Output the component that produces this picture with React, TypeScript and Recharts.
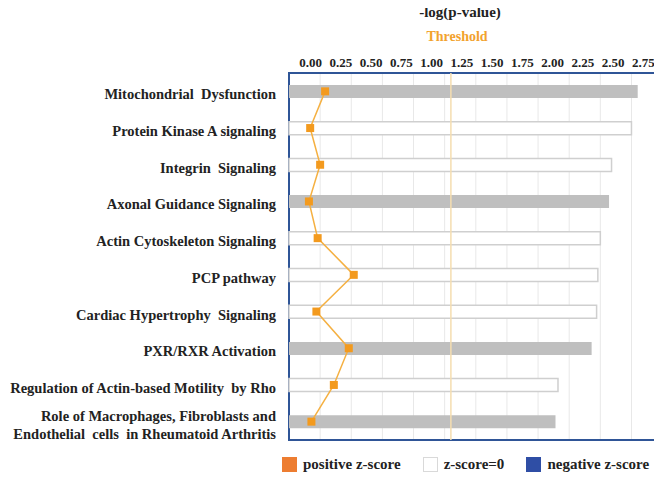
import React from 'react';
import {
  ComposedChart,
  Bar,
  Line,
  XAxis,
  YAxis,
  CartesianGrid,
  ReferenceLine,
  ReferenceArea,
  Cell,
} from 'recharts';

// pathways, top to bottom
const pathways = [
  'Mitochondrial  Dysfunction',
  'Protein Kinase A signaling',
  'Integrin  Signaling',
  'Axonal Guidance Signaling',
  'Actin Cytoskeleton Signaling',
  'PCP pathway',
  'Cardiac Hypertrophy  Signaling',
  'PXR/RXR Activation',
  'Regulation of Actin-based Motility  by Rho',
  'Role of Macrophages, Fibroblasts and|Endothelial  cells  in Rheumatoid Arthritis',
];
// -log(p-value)
const logP = [2.8, 2.75, 2.59, 2.57, 2.5, 2.48, 2.47, 2.43, 2.16, 2.14];
// ratio line (orange)
const ratio = [0.29, 0.17, 0.25, 0.16, 0.23, 0.52, 0.22, 0.48, 0.36, 0.18];
// z-score group: 'none' = no prediction (grey), 'zero' = z-score=0 (white)
const zGroup = ['none', 'zero', 'zero', 'none', 'zero', 'zero', 'zero', 'none', 'zero', 'none'];
const xTicks = [0, 0.25, 0.5, 0.75, 1, 1.25, 1.5, 1.75, 2, 2.25, 2.5, 2.75];
const threshold = 1.3;

const data = pathways.map((name, i) => ({
  name,
  logP: logP[i],
  ratio: ratio[i],
  group: zGroup[i],
}));

const FONT = '"Liberation Serif", "Times New Roman", serif';

const XTick = (props: any) => {
  const { x, y, payload, index } = props;
  // labels in the original sit a little right of their gridlines
  const dx = 21.7 - 0.9 * index;
  return (
    <text
      x={x + dx}
      y={y}
      textAnchor="middle"
      fontFamily={FONT}
      fontWeight="bold"
      fontSize={13}
      fill="#222"
    >
      {Number(payload.value).toFixed(2)}
    </text>
  );
};

const YTick = (props: any) => {
  const { x, y, payload } = props;
  const lines = String(payload.value).split('|');
  const start = y + 8 - ((lines.length - 1) * 18) / 2;
  return (
    <text
      textAnchor="end"
      fontFamily={FONT}
      fontWeight="bold"
      fontSize={14.5}
      fill="#222"
      style={{ whiteSpace: 'pre' }}
    >
      {lines.map((l, i) => (
        <tspan key={i} x={x} y={start + i * 18}>
          {l}
        </tspan>
      ))}
    </text>
  );
};

const SquareDot = (props: any) => {
  const { cx, cy } = props;
  if (cx == null || cy == null) return null;
  return <rect x={cx - 4} y={cy - 4} width={8} height={8} fill="#F39A1E" />;
};

const legendItems = [
  { label: 'positive z-score', fill: '#ED7D31', stroke: '#ED7D31' },
  { label: 'z-score=0', fill: '#ffffff', stroke: '#d9d9d9' },
  { label: 'negative z-score', fill: '#2F4EA5', stroke: '#2F4EA5' },
];

export default function App() {
  return (
    <div
      style={{
        position: 'relative',
        width: 662,
        height: 484,
        margin: -8,
        background: '#fff',
        fontFamily: FONT,
      }}
    >
      <ComposedChart
        width={662}
        height={484}
        data={data}
        layout="vertical"
        margin={{ top: 43, right: 5, bottom: 44, left: 0 }}
      >
        <CartesianGrid horizontal={false} stroke="#e8e8e8" />
        <XAxis
          type="number"
          orientation="top"
          domain={[0, 2.955]}
          ticks={xTicks}
          tick={<XTick />}
          tickLine={false}
          axisLine={false}
          tickMargin={0}
          interval={0}
        />
        <YAxis
          type="category"
          dataKey="name"
          width={289}
          tick={<YTick />}
          tickLine={false}
          axisLine={false}
          tickMargin={7}
          interval={0}
        />
        <ReferenceLine x={threshold} stroke="#F5DDB0" strokeWidth={1.5} />
        <Bar dataKey="logP" barSize={13} isAnimationActive={false}>
          {data.map((d, i) => (
            <Cell
              key={i}
              fill={d.group === 'none' ? '#BFBFBF' : '#ffffff'}
              stroke={d.group === 'none' ? 'none' : '#cfcfcf'}
              strokeWidth={1.5}
            />
          ))}
        </Bar>
        <Line
          dataKey="ratio"
          type="linear"
          stroke="#F5B041"
          strokeWidth={1.5}
          dot={<SquareDot />}
          activeDot={false}
          isAnimationActive={false}
        />
        <ReferenceArea
          x1={0}
          x2={2.955}
          fill="none"
          stroke="#2F5597"
          strokeWidth={2}
          ifOverflow="visible"
        />
      </ComposedChart>
      <div
        style={{
          position: 'absolute',
          left: 400,
          width: 120,
          top: 3,
          lineHeight: '18px',
          textAlign: 'center',
          fontWeight: 'bold',
          fontSize: 15,
          color: '#222',
        }}
      >
        -log(p-value)
      </div>
      <div
        style={{
          position: 'absolute',
          left: 400,
          width: 114,
          top: 28,
          lineHeight: '17px',
          textAlign: 'center',
          fontWeight: 'bold',
          fontSize: 14,
          color: '#F2A22E',
        }}
      >
        Threshold
      </div>
      <div
        style={{
          position: 'absolute',
          left: 282,
          top: 456,
          width: 380,
          display: 'flex',
          alignItems: 'center',
          whiteSpace: 'nowrap',
          fontWeight: 'bold',
          fontSize: 15,
          color: '#222',
        }}
      >
        {legendItems.map((it, i) => (
          <div
            key={i}
            style={{ display: 'flex', alignItems: 'center', marginRight: 22, flexShrink: 0 }}
          >
            <span
              style={{
                display: 'inline-block',
                width: 15,
                height: 15,
                background: it.fill,
                border: `1px solid ${it.stroke}`,
                boxSizing: 'border-box',
                marginRight: 6,
              }}
            />
            {it.label}
          </div>
        ))}
      </div>
    </div>
  );
}
